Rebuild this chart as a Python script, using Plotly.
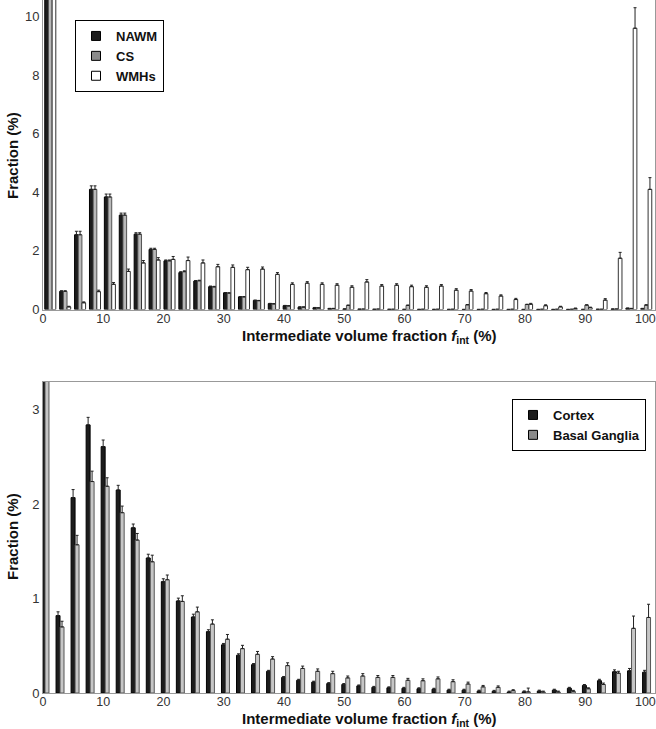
import numpy as np
import plotly.graph_objects as go

# ---------------- data ----------------
bins = [i * 2.5 for i in range(41)]  # intermediate volume fraction bins (%)

nawm = [30, 0.62, 2.55, 4.10, 3.84, 3.22, 2.57, 2.05, 1.66, 1.26, 0.97, 0.78, 0.57, 0.43, 0.31,
        0.20, 0.13, 0.08, 0.06, 0.03, 0.015, 0.008, 0.005, 0.004, 0.003, 0.002, 0.002, 0.002,
        0.001, 0.001, 0.001, 0.001, 0.001, 0.001, 0.001, 0.001, 0.002, 0.005, 0.01, 0.04, 0.03]
cs = [29, 0.62, 2.55, 4.10, 3.84, 3.22, 2.57, 2.05, 1.66, 1.29, 0.98, 0.77, 0.56, 0.43, 0.30,
      0.19, 0.12, 0.08, 0.05, 0.03, 0.14, 0.01, 0.01, 0.005, 0.14, 0.005, 0.005, 0.005,
      0.16, 0.005, 0.005, 0.005, 0.17, 0.005, 0.005, 0.005, 0.15, 0.005, 0.01, 0.03, 0.15]
wmh = [13, 0.09, 0.23, 0.61, 0.86, 1.30, 1.59, 1.69, 1.71, 1.67, 1.59, 1.46, 1.44, 1.36, 1.38,
       1.20, 0.86, 0.90, 0.86, 0.83, 0.76, 0.94, 0.80, 0.83, 0.78, 0.76, 0.80, 0.66, 0.63,
       0.54, 0.46, 0.34, 0.18, 0.13, 0.09, 0.03, 0.06, 0.32, 1.75, 9.6, 4.1]
nawm_err = [0, 0.02, 0.12, 0.12, 0.10, 0.07, 0.05, 0.04, 0.03, 0.03, 0.02, 0.02, 0.01, 0.01, 0.01,
            0.01, 0.01, 0.01, 0.01, 0.01, 0.005, 0.005, 0.005, 0.005, 0.005, 0.005, 0.005, 0.005,
            0.005, 0.005, 0.005, 0.005, 0.005, 0.005, 0.005, 0.005, 0.005, 0.005, 0.01, 0.01, 0.01]
cs_err = [0, 0.02, 0.12, 0.12, 0.10, 0.07, 0.05, 0.04, 0.03, 0.03, 0.02, 0.02, 0.01, 0.01, 0.01,
          0.01, 0.01, 0.01, 0.01, 0.01, 0.01, 0.005, 0.005, 0.005, 0.01, 0.005, 0.005, 0.005,
          0.01, 0.005, 0.005, 0.005, 0.01, 0.005, 0.005, 0.005, 0.01, 0.005, 0.01, 0.01, 0.01]
wmh_err = [0, 0.02, 0.03, 0.05, 0.06, 0.08, 0.08, 0.08, 0.10, 0.12, 0.10, 0.08, 0.08, 0.08, 0.07,
           0.06, 0.05, 0.05, 0.05, 0.05, 0.05, 0.08, 0.05, 0.05, 0.05, 0.05, 0.05, 0.05, 0.05,
           0.04, 0.04, 0.04, 0.03, 0.03, 0.02, 0.02, 0.02, 0.05, 0.20, 0.70, 0.40]

cortex = [6, 0.82, 2.07, 2.84, 2.61, 2.15, 1.75, 1.43, 1.18, 0.975, 0.805, 0.65, 0.51, 0.40, 0.30,
          0.23, 0.165, 0.135, 0.115, 0.10, 0.09, 0.075, 0.06, 0.055, 0.05, 0.045, 0.04, 0.03,
          0.03, 0.02, 0.018, 0.01, 0.012, 0.02, 0.03, 0.05, 0.08, 0.13, 0.225, 0.235, 0.22]
basal = [5, 0.70, 1.57, 2.24, 2.19, 1.91, 1.62, 1.39, 1.20, 0.97, 0.86, 0.73, 0.57, 0.47, 0.41,
         0.36, 0.29, 0.26, 0.23, 0.205, 0.16, 0.18, 0.165, 0.165, 0.135, 0.13, 0.15, 0.12,
         0.095, 0.065, 0.06, 0.025, 0.012, 0.01, 0.01, 0.018, 0.045, 0.09, 0.21, 0.685, 0.80]
cortex_err = [0, 0.04, 0.085, 0.08, 0.07, 0.05, 0.04, 0.04, 0.03, 0.03, 0.03, 0.02, 0.015, 0.015,
              0.012, 0.01, 0.01, 0.01, 0.01, 0.01, 0.01, 0.01, 0.01, 0.01, 0.01, 0.01, 0.01, 0.01,
              0.01, 0.01, 0.01, 0.01, 0.01, 0.01, 0.01, 0.01, 0.01, 0.015, 0.02, 0.025, 0.02]
basal_err = [0, 0.06, 0.10, 0.11, 0.09, 0.07, 0.07, 0.07, 0.05, 0.06, 0.05, 0.045, 0.05, 0.035,
             0.03, 0.025, 0.03, 0.025, 0.025, 0.025, 0.02, 0.025, 0.02, 0.02, 0.02, 0.02, 0.02,
             0.02, 0.02, 0.015, 0.015, 0.01, 0.04, 0.01, 0.01, 0.01, 0.01, 0.015, 0.02, 0.13, 0.14]

x_ticks = [0, 10, 20, 30, 40, 50, 60, 70, 80, 90, 100]
top_yticks = [0, 2, 4, 6, 8, 10]
bot_yticks = [0, 1, 2, 3]

# ---------------- geometry ----------------
W, H = 656, 729
ML, MR, MT, MB = 43, 1, 0, 36
PH = H - MT - MB
PW = W - ML - MR
XMAX = 101.6


def py(ypix):
    return (H - MB - ypix) / PH


def px(xpix):
    return (xpix - ML) / PW


top_dom = [py(309.5), 1.0]
bot_dom = [0.0, py(382)]
top_rng = [0, 309.5 / 29.3]
bot_rng = [0, 311 / 94.4]

b = np.array(bins)
top_pos = 1.21 + b * 0.9894
bot_pos = 0.33 + b * 0.9987
wt = 0.61
wb = 0.66

FONT = "Liberation Sans, Arial, Helvetica, sans-serif"
fig = go.Figure()


def err(arr):
    return dict(type="data", symmetric=False, array=arr, arrayminus=[0] * len(arr),
                color="#222222", thickness=1, width=1.5)


# top panel bars
for vals, e, off, fill, edge in [
    (nawm, nawm_err, -1.5 * wt, "#1c1c1c", "#000000"),
    (cs, cs_err, -0.5 * wt, "#b9b9b9", "#555555"),
    (wmh, wmh_err, 0.5 * wt, "#ffffff", "#333333"),
]:
    fig.add_trace(go.Bar(x=top_pos, y=vals, width=wt, offset=off, xaxis="x", yaxis="y",
                         marker=dict(color=fill, line=dict(color=edge, width=1)),
                         error_y=err(e), showlegend=False, hoverinfo="skip"))

# bottom panel bars
for vals, e, off, fill, edge in [
    (cortex, cortex_err, -wb, "#1c1c1c", "#000000"),
    (basal, basal_err, 0.0, "#c6c6c6", "#555555"),
]:
    fig.add_trace(go.Bar(x=bot_pos, y=vals, width=wb, offset=off, xaxis="x2", yaxis="y2",
                         marker=dict(color=fill, line=dict(color=edge, width=1)),
                         error_y=err(e), showlegend=False, hoverinfo="skip"))

# legend swatches
for name, col, lg, xa, ya in [
    ("NAWM", "#1c1c1c", "legend", "x", "y"),
    ("CS", "#8a8a8a", "legend", "x", "y"),
    ("WMHs", "#ffffff", "legend", "x", "y"),
    ("Cortex", "#1c1c1c", "legend2", "x2", "y2"),
    ("Basal Ganglia", "#8a8a8a", "legend2", "x2", "y2"),
]:
    fig.add_trace(go.Scatter(x=[None], y=[None], mode="markers", name="<b>%s</b>" % name,
                             marker=dict(symbol="square", size=9, color=col,
                                         line=dict(color="#000000", width=1)),
                             legend=lg, xaxis=xa, yaxis=ya, hoverinfo="skip"))

tickfont = dict(family=FONT, size=13, color="#333333")
xtickfont = dict(family=FONT, size=12.5, color="#333333")
base_x = dict(range=[0, XMAX], tickvals=x_ticks, ticks="", showgrid=False, zeroline=False,
              showline=True, linecolor="#999999", linewidth=1, mirror=True, tickfont=xtickfont,
              automargin=False, ticklabeloverflow="allow", ticklabelstandoff=-3)
base_y = dict(showgrid=False, zeroline=False, ticks="", showline=True, linecolor="#999999",
              linewidth=1, mirror=True, tickfont=tickfont, automargin=False)
tick_x = dict(range=[0, XMAX], tickvals=x_ticks, ticks="inside", ticklen=5, tickcolor="#999999",
              showticklabels=False, showgrid=False, zeroline=False, showline=False, side="top",
              automargin=False)
tick_y = dict(ticks="inside", ticklen=5, tickcolor="#999999", showticklabels=False,
              showgrid=False, zeroline=False, showline=False, side="right", automargin=False)

fig.update_layout(
    width=W, height=H,
    margin=dict(l=ML, r=MR, t=MT, b=MB, autoexpand=False),
    paper_bgcolor="white", plot_bgcolor="white",
    barmode="overlay",
    font=dict(family=FONT, color="#222222"),
    xaxis=dict(base_x, anchor="y", domain=[0, 1]),
    yaxis=dict(base_y, anchor="x", domain=top_dom, range=top_rng, tickvals=top_yticks),
    xaxis2=dict(base_x, anchor="y2", domain=[0, 1]),
    yaxis2=dict(base_y, anchor="x2", domain=bot_dom, range=bot_rng, tickvals=bot_yticks),
    xaxis3=dict(tick_x, overlaying="x", anchor="y"),
    yaxis3=dict(tick_y, overlaying="y", anchor="x", range=top_rng, dtick=1),
    xaxis4=dict(tick_x, overlaying="x2", anchor="y2"),
    yaxis4=dict(tick_y, overlaying="y2", anchor="x2", range=bot_rng, dtick=0.5),
    legend=dict(x=px(75), y=py(20), xanchor="left", yanchor="top",
                bordercolor="#000000", borderwidth=1, bgcolor="white",
                font=dict(family=FONT, size=13, color="#111111"), tracegroupgap=0),
    legend2=dict(x=px(512), y=py(399), xanchor="left", yanchor="top",
                 bordercolor="#000000", borderwidth=1, bgcolor="white",
                 font=dict(family=FONT, size=13, color="#111111"), tracegroupgap=0),
)

xtitle = "<b>Intermediate volume fraction <i>f</i><sub>int</sub> (%)</b>"
common = dict(xref="paper", yref="paper", showarrow=False, xanchor="center", yanchor="middle",
              font=dict(family=FONT, size=15, color="#111111"))
ann = [
    dict(common, text=xtitle, x=px(369), y=py(336)),
    dict(common, text=xtitle, x=px(369), y=py(720)),
    dict(common, text="<b>Fraction (%)</b>", x=px(12), y=py(156), textangle=-90),
    dict(common, text="<b>Fraction (%)</b>", x=px(12), y=py(537), textangle=-90),
]
fig.update_layout(annotations=ann)

fig.write_html("out.html", config={"displayModeBar": False},
               post_script="document.body.style.margin='0px';document.body.style.padding='0px';")
